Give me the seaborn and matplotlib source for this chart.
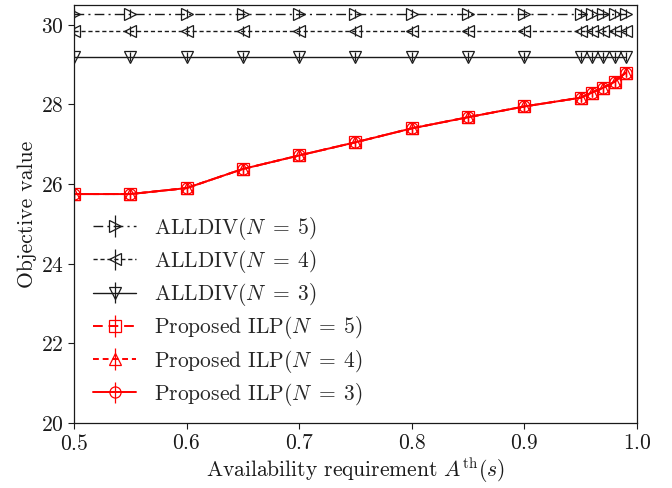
import matplotlib
matplotlib.use("Agg")
import matplotlib.pyplot as plt
import seaborn as sns

# availability thresholds
x = [0.5, 0.55, 0.6, 0.65, 0.7, 0.75, 0.8, 0.85, 0.9, 0.95, 0.96, 0.97, 0.98, 0.99]

alldiv_n5 = [30.28] * len(x)
alldiv_n4 = [29.84] * len(x)
alldiv_n3 = [29.2] * len(x)

ilp_n5 = [25.75, 25.75, 25.9, 26.38, 26.72, 27.05, 27.4, 27.68, 27.95, 28.17, 28.3, 28.42, 28.57, 28.8]
ilp_n4 = [25.75, 25.75, 25.9, 26.38, 26.72, 27.05, 27.4, 27.68, 27.95, 28.17, 28.3, 28.42, 28.57, 28.8]
ilp_n3 = [25.75, 25.75, 25.9, 26.38, 26.72, 27.05, 27.4, 27.68, 27.95, 28.17, 28.3, 28.42, 28.57, 28.8]

sns.set_theme(style="ticks")
plt.rcParams['font.family'] = ['cmr10', 'DejaVu Serif']
plt.rcParams['mathtext.fontset'] = 'cm'
plt.rcParams['axes.formatter.use_mathtext'] = True
plt.rcParams['axes.unicode_minus'] = False

fs = 15.5

fig, ax = plt.subplots(figsize=(6.72, 4.88), dpi=100)
fig.subplots_adjust(left=0.110, right=0.948, top=0.990, bottom=0.133)

err = 0.12
series = [
    (alldiv_n5, 'k', (0, (7, 3, 1.5, 3)), '>', 9, 1.0, r'ALLDIV$(N\;=\;5)$'),
    (alldiv_n4, 'k', (0, (3, 2)), '<', 9, 1.0, r'ALLDIV$(N\;=\;4)$'),
    (alldiv_n3, 'k', '-', 'v', 9, 1.0, r'ALLDIV$(N\;=\;3)$'),
    (ilp_n5, 'red', (0, (5, 3)), 's', 8, 1.4, r'Proposed ILP$(N\;=\;5)$'),
    (ilp_n4, 'red', (0, (3, 2)), '^', 8, 1.4, r'Proposed ILP$(N\;=\;4)$'),
    (ilp_n3, 'red', '-', 'o', 8, 1.4, r'Proposed ILP$(N\;=\;3)$'),
]
for y, c, ls, m, ms, lw, lab in series:
    ax.errorbar(x, y, yerr=err, color=c, linestyle=ls, marker=m, markersize=ms,
                markerfacecolor='none', markeredgecolor=c, markeredgewidth=0.9,
                linewidth=lw, elinewidth=0.9, capsize=0, label=lab)

ax.set_xlim(0.5, 1.0)
ax.set_ylim(20, 30.5)
ax.set_xticks([0.5, 0.6, 0.7, 0.8, 0.9, 1.0])
ax.set_yticks([20, 22, 24, 26, 28, 30])
ax.tick_params(labelsize=fs, direction='out', length=4.5, width=0.8, colors='k', pad=3)
for s in ax.spines.values():
    s.set_color('k')
    s.set_linewidth(0.9)

ax.set_xlabel(r'Availability requirement $A^{\mathrm{th}}(s)$', fontsize=fs, color='k', labelpad=1.5)
ax.set_ylabel('Objective value', fontsize=fs, color='k', labelpad=2.5)

ax.legend(loc='lower left', bbox_to_anchor=(0.0, -0.01), frameon=False,
          fontsize=fs, labelspacing=0.29, handlelength=2.0, handletextpad=0.8)

fig.savefig('out.png', dpi=100)
